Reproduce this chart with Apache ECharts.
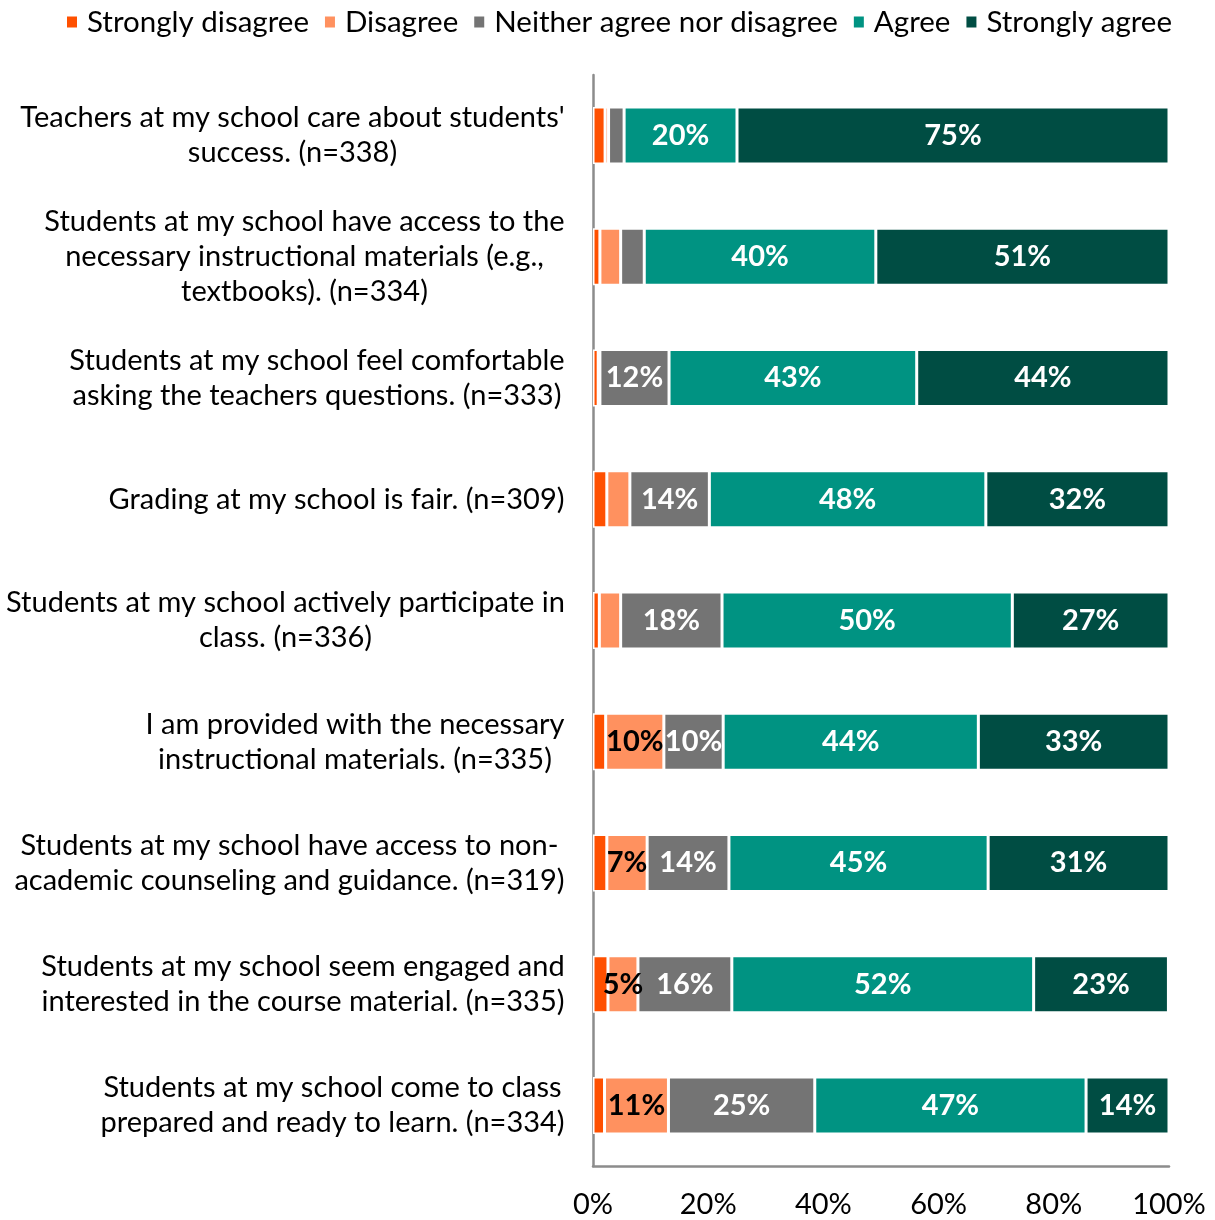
<!DOCTYPE html>
<html><head><meta charset="utf-8">
<script src="https://cdn.jsdelivr.net/npm/echarts@6/dist/echarts.min.js"></script>
<style>html,body{margin:0;padding:0;background:#fff}#c{width:1215px;height:1220px}</style>
</head><body><div id="c"></div>
<script>
const categories = [
  "Teachers at my school care about students'\nsuccess. (n=338)",
  "Students at my school have access to the\nnecessary instructional materials (e.g.,\ntextbooks). (n=334)",
  "Students at my school feel comfortable\nasking the teachers questions. (n=333)",
  "Grading at my school is fair. (n=309)",
  "Students at my school actively participate in\nclass. (n=336)",
  "I am provided with the necessary\ninstructional materials. (n=335)",
  "Students at my school have access to non-\nacademic counseling and guidance. (n=319)",
  "Students at my school seem engaged and\ninterested in the course material. (n=335)",
  "Students at my school come to class\nprepared and ready to learn. (n=334)"
];
const seriesNames = ["Strongly disagree", "Disagree", "Neither agree nor disagree", "Agree", "Strongly agree"];
const stronglyDisagree = [2.1, 1.2, 0.9, 2.4, 1.1, 2.2, 2.4, 2.6, 2.0];
const disagree         = [0.6, 3.6, 0.3, 4.0, 3.7, 10.1, 7.0, 5.2, 11.1];
const neither          = [2.7, 4.1, 12.0, 13.8, 17.6, 10.3, 14.2, 16.3, 25.4];
const agree            = [19.6, 40.2, 43.0, 48.0, 50.4, 44.3, 45.0, 52.4, 47.1];
const stronglyAgree    = [75.0, 50.9, 43.8, 31.8, 27.2, 33.1, 31.4, 23.4, 14.4];
const xTicks = [0, 20, 40, 60, 80, 100];

const colors = ["#FF5000", "#FF915F", "#747474", "#009382", "#004D43"];
const labelColors = ["#000", "#000", "#fff", "#fff", "#fff"];
const FONT = "Lato, 'Noto Sans', sans-serif";
const FS = 29;

const ctx = document.createElement('canvas').getContext('2d');
ctx.font = FS + "px Lato";
const rich = {};
categories.forEach((c, i) => {
  const w = Math.max(...c.split('\n').map(l => ctx.measureText(l).width));
  rich['r' + i] = { width: Math.ceil(w) + 2, align: 'center', fontSize: FS, fontFamily: FONT, color: '#000', lineHeight: 35 };
});

const data = [stronglyDisagree, disagree, neither, agree, stronglyAgree];
const chart = echarts.init(document.getElementById('c'));
chart.setOption({
  animation: false,
  color: colors,
  textStyle: { fontFamily: FONT },
  legend: {
    top: 2, left: 60,
    itemWidth: 12, itemHeight: 13, itemGap: 14,
    icon: 'rect',
    textStyle: { fontSize: 29.5, color: '#000', fontFamily: FONT, padding: [0, 0, 0, 4] },
    data: seriesNames
  },
  grid: { left: 593, right: 46, top: 75, bottom: 54, containLabel: false },
  xAxis: {
    type: 'value', min: 0, max: 100, interval: 20,
    axisLine: { show: true, lineStyle: { color: '#8c8c8c', width: 2.5 } },
    axisTick: { show: false },
    splitLine: { show: false },
    axisLabel: { formatter: v => xTicks.includes(v) ? v + '%' : '', fontSize: FS, color: '#000', fontFamily: FONT, margin: 24 }
  },
  yAxis: {
    type: 'category', inverse: true, data: categories,
    axisLine: { show: true, lineStyle: { color: '#8c8c8c', width: 2.5 } },
    axisTick: { show: false },
    axisLabel: {
      margin: 27,
      formatter: (v, i) => v.split('\n').map(l => '{r' + i + '|' + l + '}').join('\n'),
      rich: rich
    }
  },
  series: seriesNames.map((n, k) => ({
    name: n, type: 'bar', stack: 'total', barWidth: 57,
    data: data[k],
    itemStyle: { color: colors[k], borderColor: '#fff', borderWidth: 1.5 },
    label: {
      show: true, position: 'inside',
      formatter: p => Math.round(p.value) >= 5 ? Math.round(p.value) + '%' : '',
      color: labelColors[k], fontSize: FS, fontWeight: 'bold', fontFamily: FONT
    }
  }))
});
</script></body></html>
